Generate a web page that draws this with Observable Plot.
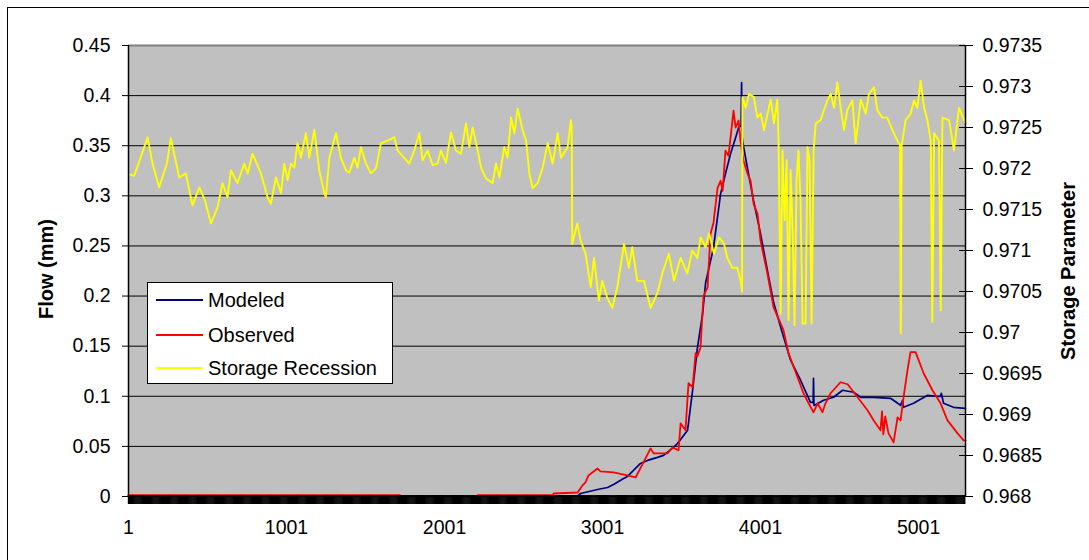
<!DOCTYPE html>
<html>
<head>
<meta charset="utf-8">
<script src="https://cdn.jsdelivr.net/npm/d3@7"></script>
<script src="https://cdn.jsdelivr.net/npm/@observablehq/plot@0.6"></script>
<style>
  html, body { margin: 0; padding: 0; background: #fff; overflow: hidden; }
  #wrap { position: relative; width: 1089px; height: 560px; font-family: 'Liberation Sans', Arial, sans-serif; }
  #border { position: absolute; left: 7px; top: 7px; width: 1200px; height: 700px; border: 1px solid #000; box-sizing: border-box; pointer-events: none; }
  .ytitle { position: absolute; font-weight: bold; font-size: 20px; white-space: nowrap; transform: translate(-50%, -50%) rotate(-90deg); }
  #legend { position: absolute; left: 147px; top: 282px; width: 246px; height: 102px; background: #fff; border: 1px solid #000; box-sizing: border-box; font-size: 20px; }
  .li { position: absolute; left: 0; height: 24px; line-height: 24px; }
  .sw { position: absolute; left: 8px; top: 11px; width: 47px; height: 2px; }
  .lt { position: absolute; left: 60px; top: 0; white-space: nowrap; }
</style>
</head>
<body>
<div id="wrap">
  <div id="chart"></div>
  <div id="border"></div>
  <div class="ytitle" style="left:46px; top:269px;">Flow (mm)</div>
  <div class="ytitle" style="left:1068px; top:271px;">Storage Parameter</div>
  <div id="legend"></div>
</div>
<script>
// ---- axis definitions ----
const xMax = 5298;
const flowTicks = [0, 0.05, 0.1, 0.15, 0.2, 0.25, 0.3, 0.35, 0.4, 0.45];
const storageTicks = [0.968, 0.9685, 0.969, 0.9695, 0.97, 0.9705, 0.971, 0.9715, 0.972, 0.9725, 0.973, 0.9735];
const xLabelTicks = [1, 1001, 2001, 3001, 4001, 5001];

// ---- series: [time step, value] ----
const modeled = [
  [1,0.0005],[2843,0.0005],[2862,0.003],[2969,0.007],[3033,0.009],[3071,0.012],[3134,0.018],[3159,0.020],
  [3241,0.033],[3286,0.036],[3349,0.039],[3387,0.041],[3450,0.049],[3476,0.053],[3539,0.066],[3571,0.106],
  [3602,0.149],[3634,0.182],[3653,0.213],[3703,0.248],[3748,0.302],[3779,0.322],[3811,0.342],[3843,0.358],
  [3862,0.368],[3878,0.370],[3881,0.413],[3884,0.360],[3887,0.355],[3906,0.338],[3925,0.322],[3957,0.295],
  [4001,0.262],[4045,0.225],[4083,0.194],[4128,0.169],[4191,0.136],[4254,0.116],[4317,0.094],[4334,0.094],
  [4336,0.118],[4339,0.091],[4343,0.091],[4400,0.096],[4463,0.099],[4520,0.106],[4590,0.104],[4634,0.099],
  [4716,0.099],[4824,0.098],[4887,0.091],[4900,0.096],[4906,0.089],[4969,0.093],[5058,0.101],[5121,0.100],
  [5140,0.100],[5145,0.103],[5159,0.093],[5222,0.089],[5298,0.088]
];
const observed = [
  [1,0.0013],[1720,0.0013],[1722,0.0],[2208,0.0],[2210,0.0013],[2689,0.0013],[2691,0.003],[2843,0.004],
  [2874,0.011],[2893,0.014],[2912,0.021],[2969,0.028],[2988,0.025],[3071,0.024],[3159,0.021],[3210,0.019],
  [3260,0.034],[3305,0.048],[3324,0.043],[3412,0.043],[3444,0.049],[3482,0.046],[3495,0.073],[3526,0.066],
  [3545,0.113],[3571,0.109],[3590,0.143],[3602,0.140],[3621,0.149],[3640,0.200],[3666,0.209],[3684,0.262],
  [3703,0.273],[3729,0.308],[3748,0.315],[3761,0.305],[3779,0.345],[3798,0.340],[3811,0.358],[3830,0.385],
  [3843,0.368],[3862,0.375],[3874,0.355],[3893,0.335],[3919,0.322],[3938,0.315],[3957,0.292],[3982,0.282],
  [4001,0.255],[4045,0.222],[4083,0.189],[4146,0.166],[4178,0.143],[4235,0.119],[4273,0.103],[4305,0.093],
  [4336,0.084],[4362,0.093],[4393,0.084],[4412,0.093],[4444,0.103],[4507,0.114],[4552,0.112],[4615,0.099],
  [4678,0.086],[4716,0.076],[4760,0.066],[4770,0.085],[4778,0.062],[4790,0.080],[4811,0.063],[4843,0.054],
  [4868,0.079],[4887,0.076],[4906,0.099],[4931,0.126],[4950,0.144],[4982,0.144],[5033,0.123],[5089,0.106],
  [5140,0.093],[5184,0.076],[5248,0.063],[5286,0.056],[5298,0.056]
];
const storage = [
  [1,0.97193],[37,0.97191],[122,0.97238],[153,0.97206],[195,0.97177],[244,0.97206],[269,0.97237],[322,0.97189],
  [364,0.97194],[406,0.97155],[449,0.97177],[485,0.97161],[523,0.97133],[565,0.97153],[596,0.97182],[628,0.97165],
  [649,0.97198],[691,0.97182],[734,0.97206],[755,0.97194],[786,0.97218],[839,0.97194],[881,0.97165],[902,0.97157],
  [934,0.97189],[966,0.97170],[987,0.97206],[1008,0.97186],[1029,0.97206],[1050,0.97201],[1071,0.97231],[1092,0.97213],
  [1124,0.97243],[1145,0.97213],[1177,0.97247],[1208,0.97198],[1240,0.97170],[1250,0.97165],[1272,0.97213],[1314,0.97243],
  [1345,0.97213],[1377,0.97198],[1398,0.97195],[1430,0.97213],[1451,0.97201],[1472,0.97226],[1504,0.97206],[1535,0.97194],
  [1567,0.97200],[1599,0.97231],[1641,0.97234],[1683,0.97238],[1704,0.97222],[1746,0.97213],[1778,0.97206],[1810,0.97222],
  [1841,0.97243],[1862,0.97210],[1894,0.97222],[1926,0.97204],[1957,0.97206],[1978,0.97222],[2010,0.97207],[2042,0.97244],
  [2073,0.97222],[2105,0.97218],[2137,0.97255],[2158,0.97226],[2179,0.97250],[2211,0.97222],[2232,0.97201],[2263,0.97188],
  [2305,0.97182],[2327,0.97206],[2348,0.97189],[2379,0.97226],[2400,0.97213],[2422,0.97262],[2443,0.97243],[2464,0.97273],
  [2495,0.97247],[2517,0.97234],[2538,0.97194],[2559,0.97176],[2590,0.97182],[2622,0.97201],[2654,0.97231],[2685,0.97206],
  [2717,0.97243],[2738,0.97213],[2780,0.97226],[2801,0.97259],[2806,0.97250],[2809,0.97108],[2841,0.97133],[2862,0.97112],
  [2894,0.97096],[2926,0.97055],[2947,0.97091],[2978,0.97039],[2999,0.97063],[3031,0.97042],[3063,0.97030],[3094,0.97055],
  [3137,0.97108],[3168,0.97079],[3189,0.97104],[3221,0.97063],[3263,0.97063],[3305,0.97030],[3348,0.97048],[3379,0.97072],
  [3421,0.97096],[3453,0.97063],[3495,0.97091],[3537,0.97072],[3569,0.97100],[3601,0.97091],[3622,0.97116],[3653,0.97104],
  [3675,0.97121],[3706,0.97096],[3738,0.97116],[3770,0.97108],[3791,0.97091],[3822,0.97079],[3854,0.97079],[3875,0.97063],
  [3884,0.97050],[3886,0.97287],[3907,0.97274],[3928,0.97291],[3959,0.97287],[3981,0.97262],[4002,0.97267],[4023,0.97247],
  [4065,0.97284],[4086,0.97255],[4107,0.97284],[4115,0.97234],[4128,0.97023],[4140,0.97222],[4153,0.97137],[4166,0.97210],
  [4178,0.97015],[4191,0.97198],[4204,0.97125],[4216,0.97009],[4229,0.97186],[4241,0.97222],[4254,0.97161],[4267,0.97011],
  [4286,0.97011],[4298,0.97226],[4311,0.97210],[4324,0.97011],[4337,0.97222],[4350,0.97255],[4381,0.97259],[4402,0.97271],
  [4424,0.97283],[4445,0.97291],[4466,0.97274],[4487,0.97305],[4508,0.97274],[4529,0.97247],[4550,0.97271],[4582,0.97283],
  [4603,0.97231],[4635,0.97284],[4666,0.97267],[4687,0.97291],[4719,0.97299],[4740,0.97271],[4772,0.97262],[4803,0.97262],
  [4835,0.97247],[4867,0.97234],[4884,0.97228],[4888,0.96999],[4894,0.97228],[4919,0.97259],[4951,0.97267],[4972,0.97283],
  [4993,0.97274],[5014,0.97307],[5036,0.97274],[5057,0.97259],[5078,0.97234],[5088,0.97013],[5099,0.97243],[5130,0.97234],
  [5141,0.97027],[5152,0.97262],[5194,0.97259],[5225,0.97222],[5257,0.97274],[5289,0.97259],[5298,0.97255]
];

const seriesNames = ["Modeled", "Observed", "Storage Recession"];
const seriesColors = ["#000080", "#ff0000", "#ffff00"];

// secondary axis mapping (storage -> flow-scale position)
const sMin = storageTicks[0], sMax = storageTicks[storageTicks.length - 1];
const fMax = flowTicks[flowTicks.length - 1];
const toFlow = s => (s - sMin) / (sMax - sMin) * fMax;
const fromFlow = f => sMin + f / fMax * (sMax - sMin);

// dense category-axis tick marks
const bandTicks = d3.range(1, xMax, 6);

const chart = Plot.plot({
  width: 1089,
  height: 560,
  marginLeft: 128,
  marginRight: 124,
  marginTop: 45,
  marginBottom: 64,
  x: { domain: [1, xMax], axis: null },
  y: { domain: [0, fMax], axis: null },
  style: { fontFamily: "'Liberation Sans', Arial, sans-serif", fontSize: "19.5px", color: "black", background: "white", overflow: "visible" },
  marks: [
    Plot.frame({ fill: "#c0c0c0", stroke: null }),
    Plot.ruleY(flowTicks.filter(d => d > 0 && d < fMax), { stroke: "black", strokeWidth: 1 }),
    Plot.ruleY([fMax], { stroke: "#808080", strokeWidth: 2 }),
    Plot.line(modeled, { x: d => d[0], y: d => d[1], stroke: seriesColors[0], strokeWidth: 1.7 }),
    Plot.line(observed, { x: d => d[0], y: d => d[1], stroke: seriesColors[1], strokeWidth: 1.8 }),
    Plot.line(storage, { x: d => d[0], y: d => toFlow(d[1]), stroke: seriesColors[2], strokeWidth: 1.9 }),
    Plot.ruleX([1], { stroke: "black", strokeWidth: 1.5 }),
    Plot.ruleX([xMax], { stroke: "black", strokeWidth: 1.5 }),
    Plot.ruleX(bandTicks, { x: d => d, y1: 0, y2: 0, insetTop: -1, insetBottom: -8, stroke: "black", strokeWidth: 1.4 }),
    Plot.ruleY([0], { stroke: "black", strokeWidth: 1 }),
    Plot.axisY(flowTicks, { anchor: "left", tickSize: 6, tickPadding: 12, tickFormat: d => String(d), label: null }),
    Plot.axisY(storageTicks.map(toFlow), { anchor: "right", tickSize: 14, dx: -7, tickPadding: 10, tickFormat: d => String(+fromFlow(d).toFixed(4)), label: null }),
    Plot.axisX(xLabelTicks, { anchor: "bottom", tickSize: 0, tickPadding: 24, tickFormat: d => String(d), label: null })
  ]
});
document.getElementById("chart").appendChild(chart);

// legend
const legend = document.getElementById("legend");
const rowTops = [5, 40, 73];
seriesNames.forEach((name, i) => {
  const row = document.createElement("div");
  row.className = "li";
  row.style.top = rowTops[i] + "px";
  row.innerHTML = `<div class="sw" style="background:${seriesColors[i]}"></div><div class="lt">${name}</div>`;
  legend.appendChild(row);
});
</script>
</body>
</html>
